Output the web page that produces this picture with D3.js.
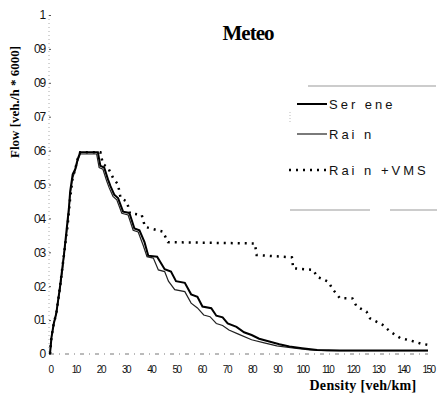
<!DOCTYPE html>
<html><head><meta charset="utf-8">
<script src="https://cdn.jsdelivr.net/npm/d3@7"></script>
<style>body{margin:0;background:#fff}svg{display:block}</style>
</head><body>
<script>
const xTicks = [0,10,20,30,40,50,60,70,80,90,100,110,120,130,140,150];
const yTicks = [0,0.1,0.2,0.3,0.4,0.5,0.6,0.7,0.8,0.9,1];
const yTickLabels = ["0","01","02","03","04","05","06","07","09","09","1"];
const seriesNames = ["Ser ene","Rai n","Rai n +VMS"];

const sereneD = [0,0.6,1.5,2.5,4,5,5.5,6.5,7.5,8,9,10,11,12,19,20,21.5,23,24,25.5,27,29,31.5,33.5,35.5,37.5,39,42.5,45.5,48,50,53.5,56,58.5,60.5,64,66,68.5,70.5,74,77,80,83,87,91,95,100,106,115,150];
const sereneF = [0,0.05,0.09,0.12,0.2,0.26,0.29,0.36,0.43,0.48,0.53,0.545,0.575,0.595,0.595,0.555,0.55,0.515,0.495,0.47,0.46,0.42,0.416,0.37,0.365,0.33,0.29,0.287,0.25,0.243,0.215,0.21,0.176,0.169,0.14,0.135,0.113,0.108,0.09,0.08,0.064,0.056,0.045,0.037,0.029,0.022,0.017,0.012,0.01,0.01];

const rainD = [0,0.6,1.5,2.5,4,5,5.5,6.5,7.5,8,9,10,11,12,18.5,19.5,21,22.5,23.5,25,26.5,28.5,31,33,35,37,38.5,41,43,45.5,47,49.5,53.5,56,58.5,61,63.5,66,68.5,71,75,80,85,90,97,103,110,150];
const rainF = [0,0.05,0.09,0.12,0.19,0.25,0.29,0.35,0.42,0.47,0.52,0.54,0.57,0.59,0.59,0.55,0.545,0.51,0.49,0.465,0.455,0.415,0.41,0.365,0.36,0.32,0.287,0.283,0.248,0.243,0.215,0.19,0.184,0.15,0.136,0.115,0.11,0.09,0.084,0.071,0.058,0.042,0.033,0.024,0.017,0.012,0.01,0.01];

const vmsD = [0,0.6,1.5,2.5,4,5,6,7,8,9,10,11,12,20,21,23,25,27,28,30.5,31.7,36.4,37.7,44.8,46.8,81.3,82,96,96.5,104.5,106,110.5,112,115,120,121.7,125.6,127,132,135,139,143,147,150];
const vmsF = [0,0.05,0.09,0.12,0.2,0.26,0.32,0.38,0.46,0.52,0.545,0.575,0.595,0.595,0.56,0.55,0.52,0.5,0.46,0.45,0.415,0.41,0.375,0.361,0.33,0.326,0.292,0.285,0.253,0.248,0.228,0.213,0.193,0.165,0.164,0.14,0.125,0.105,0.086,0.066,0.047,0.04,0.031,0.027];

const W = 438, H = 396;
const svg = d3.select("body").append("svg").attr("width", W).attr("height", H);
const x = d3.scaleLinear().domain([0,150]).range([50,428]);
const y = d3.scaleLinear().domain([0,1]).range([354,15]);

// axes
svg.append("line").attr("x1",49).attr("x2",49).attr("y1",y(1)).attr("y2",y(0))
  .attr("stroke","#aaa").attr("stroke-width",1).attr("stroke-dasharray","1,3");
svg.append("line").attr("x1",x(0)).attr("x2",x(150)).attr("y1",y(0)).attr("y2",y(0))
  .attr("stroke","#777").attr("stroke-width",1).attr("stroke-dasharray","4,5,1,5");

const yAxis = d3.axisLeft(y).tickValues(yTicks).tickSize(2).tickPadding(4)
  .tickFormat((d,i)=>yTickLabels[i]);
const gy = svg.append("g").attr("transform","translate(51,0)").call(yAxis);
gy.select(".domain").remove();
gy.selectAll("line").attr("stroke","#555");
gy.selectAll("text").attr("font-family","Liberation Sans, Arial").attr("font-size",12)
  .attr("letter-spacing","-1.2").attr("fill","#111");

const xAxis = d3.axisBottom(x).tickValues(xTicks).tickSize(0).tickPadding(12);
const gx = svg.append("g").attr("transform","translate(0,354)").call(xAxis);
gx.select(".domain").remove();
gx.selectAll("text").attr("font-family","Liberation Sans, Arial").attr("font-size",10)
  .attr("letter-spacing","-1.5").attr("fill","#111");

// lines
const line = d3.line().x(d=>x(d[0])).y(d=>y(d[1]));
const zip = (a,b)=>a.map((v,i)=>[v,b[i]]);
svg.append("path").datum(zip(vmsD,vmsF)).attr("d",line).attr("fill","none")
  .attr("stroke","#000").attr("stroke-width",2.5).attr("stroke-dasharray","2,5");
svg.append("path").datum(zip(rainD,rainF)).attr("d",line).attr("fill","none")
  .attr("stroke","#222").attr("stroke-width",1.2);
svg.append("path").datum(zip(sereneD,sereneF)).attr("d",line).attr("fill","none")
  .attr("stroke","#000").attr("stroke-width",2);

// title
svg.append("text").attr("x",248).attr("y",40).attr("text-anchor","middle")
  .attr("font-family","Liberation Serif, Times New Roman").attr("font-weight","bold")
  .attr("font-size",21).attr("letter-spacing","-1").text("Meteo");

// axis labels
svg.append("text").attr("transform","translate(19,102) rotate(-90)").attr("text-anchor","middle")
  .attr("font-family","Liberation Serif, Times New Roman").attr("font-weight","bold")
  .attr("font-size",13).text("Flow [veh./h * 6000]");
svg.append("text").attr("x",363).attr("y",390).attr("text-anchor","middle")
  .attr("font-family","Liberation Serif, Times New Roman").attr("font-weight","bold")
  .attr("font-size",14).attr("letter-spacing","0.3").text("Density [veh/km]");

// legend
svg.append("line").attr("x1",308).attr("x2",436).attr("y1",86).attr("y2",86)
  .attr("stroke","#999").attr("stroke-width",1);
svg.append("line").attr("x1",290).attr("x2",437).attr("y1",210).attr("y2",210)
  .attr("stroke","#999").attr("stroke-width",1).attr("stroke-dasharray","80,20,45,0");
svg.append("line").attr("x1",290).attr("x2",290).attr("y1",112).attr("y2",122)
  .attr("stroke","#bbb").attr("stroke-dasharray","1,2");
const legY = [104,134,170];
const legStyles = [
  {w:2,c:"#000",da:null,x0:297},
  {w:1.2,c:"#222",da:null,x0:297},
  {w:2.5,c:"#000",da:"2,5",x0:289}
];
seriesNames.forEach((n,i)=>{
  const s = legStyles[i];
  const l = svg.append("line").attr("x1",s.x0).attr("x2",327).attr("y1",legY[i]).attr("y2",legY[i])
    .attr("stroke",s.c).attr("stroke-width",s.w);
  if (s.da) l.attr("stroke-dasharray",s.da);
  svg.append("text").attr("x",329).attr("y",legY[i]+5)
    .attr("font-family","Liberation Sans, Arial").attr("font-size",13)
    .attr("letter-spacing","3").attr("fill","#111").style("white-space","pre").text(n);
});
</script>
</body></html>
